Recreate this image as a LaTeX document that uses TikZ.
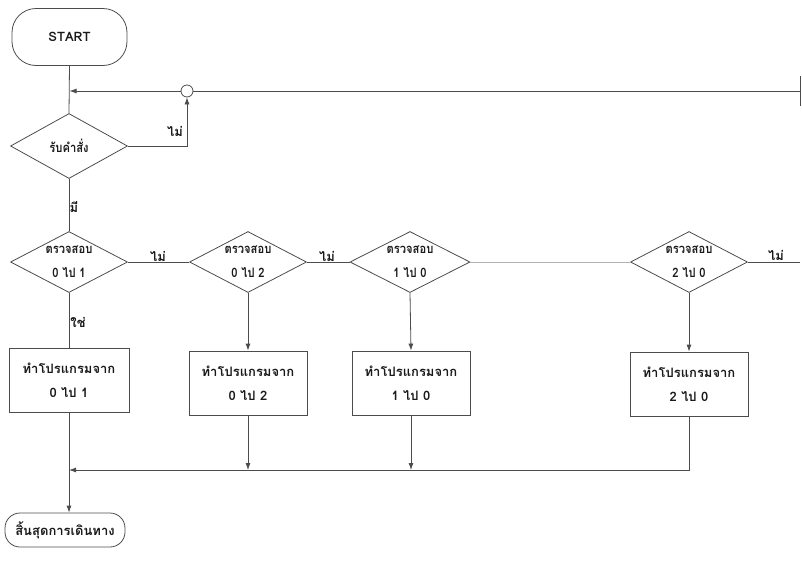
\documentclass[tikz,border=0pt]{standalone}
\usepackage{fontspec}
\newfontfamily\thaifont[Script=Thai]{Loma}
\newfontfamily\thainarrow[Script=Thai,FakeStretch=0.86]{Loma}
\usetikzlibrary{shapes.geometric,arrows.meta}
\begin{document}
\begin{tikzpicture}[x=1pt,y=-1pt,
  txt/.style={font=\thaifont\bfseries\fontsize{13}{24}\selectfont, text=black!90},
  line/.style={draw=black!70, line width=0.8pt},
  faint/.style={draw=black!30, line width=0.8pt},
  arr/.style={line, -{Latex[length=7pt,width=5pt]}},
  term/.style={txt, rectangle, draw=black!70, line width=0.8pt, inner sep=0pt},
  dia/.style={txt, font=\thainarrow\bfseries\fontsize{13}{24}\selectfont, diamond, draw=black!70, line width=0.8pt, aspect=1.9, inner sep=0pt, align=center},
  proc/.style={txt, rectangle, draw=black!70, line width=0.8pt, inner sep=0pt, minimum width=118pt, minimum height=64pt, align=center},
  lbl/.style={txt, inner sep=1pt},
  junct/.style={circle, draw=black!70, line width=0.8pt, fill=white, minimum size=12pt, inner sep=0pt}
]
\useasboundingbox (0,0) rectangle (802,568);
% terminals
\node[term, rounded corners=24pt, minimum width=115pt, minimum height=57pt] (start) at (69.5,37) {START};
\node[term, rounded corners=15pt, minimum width=120pt, minimum height=34pt] (stop) at (65,530) {สิ้นสุดการเดินทาง};
% decisions
\node[dia, minimum width=117pt, minimum height=65pt] (d0) at (69,146) {รับคำสั่ง};
\node[dia, minimum width=117pt, minimum height=61pt] (d1) at (69,262) {ตรวจสอบ\\0 ไป 1};
\node[dia, minimum width=117pt, minimum height=61pt] (d2) at (248,262) {ตรวจสอบ\\0 ไป 2};
\node[dia, minimum width=120pt, minimum height=61pt] (d3) at (410,262) {ตรวจสอบ\\1 ไป 0};
\node[dia, minimum width=117pt, minimum height=61pt] (d4) at (689,262) {ตรวจสอบ\\2 ไป 0};
% processes
\node[proc, minimum width=120pt] (b1) at (69,380) {ทำโปรแกรมจาก\\0 ไป 1};
\node[proc] (b2) at (248,383) {ทำโปรแกรมจาก\\0 ไป 2};
\node[proc] (b3) at (411,383) {ทำโปรแกรมจาก\\1 ไป 0};
\node[proc] (b4) at (689,384) {ทำโปรแกรมจาก\\2 ไป 0};
% junction and free ends
\node[junct] (jn) at (187,91) {};
\coordinate (rend) at (800,91);
\coordinate (rtop) at (800,76);
\coordinate (rbot) at (800,106);
\coordinate (d4out) at (800,262);
\coordinate (m1) at (69,470);
% connectors
\draw[line] (start.south) -- (d0.north);
\draw[line] (rtop) -- (rbot);
\draw[line] (rend) -- (jn.east);
\draw[arr] (jn.west) -- (start.south |- jn.west);
\draw[arr] (d0.east) -| (jn.south);
\draw[line] (d0.south) -- (d1.north);
\draw[line] (d1.east) -- (d2.west);
\draw[line] (d2.east) -- (d3.west);
\draw[faint] (d3.east) -- (d4.west);
\draw[line] (d4.east) -- (d4out);
\draw[line] (d1.south) -- (b1.north);
\draw[arr] (d2.south) -- (b2.north);
\draw[arr] (d3.south) -- (b3.north);
\draw[arr] (d4.south) -- (b4.north);
\draw[arr] (b4.south) |- (m1);
\draw[arr] (b2.south) -- (b2.south |- m1);
\draw[arr] (b3.south) -- (b3.south |- m1);
\draw[arr] (b1.south) -- (b1.south |- stop.north);
% labels
\node[lbl] (l0) at (175,131) {ไม่};
\node[lbl] (l1) at (74,207) {มี};
\node[lbl] (l2) at (158,256) {ไม่};
\node[lbl] (l3) at (327,256) {ไม่};
\node[lbl] (l4) at (776,255) {ไม่};
\node[lbl] (l5) at (78,322) {ใช่};
\end{tikzpicture}
\end{document}
